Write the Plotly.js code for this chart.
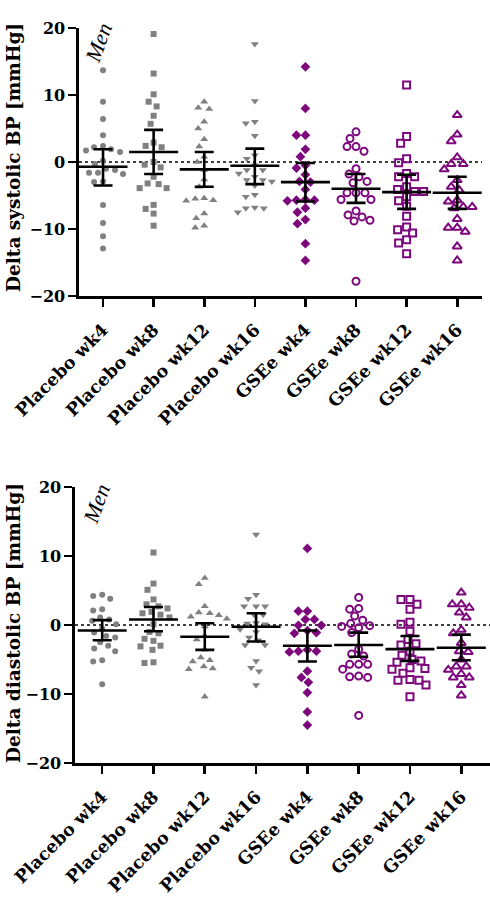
<!DOCTYPE html>
<html>
<head>
<meta charset="utf-8">
<script src="https://cdn.plot.ly/plotly-3.0.1.min.js"></script>
<style>html,body{margin:0;padding:0;background:#fff;}#chart{width:490px;height:902px;}</style>
</head>
<body>
<div id="chart"></div>
<script>
const categories = ['Placebo wk4', 'Placebo wk8', 'Placebo wk12', 'Placebo wk16', 'GSEe wk4', 'GSEe wk8', 'GSEe wk12', 'GSEe wk16'];

// Delta systolic BP [mmHg]
const sys_placebo_wk4 = [13.7, 9.0, 6.4, 4.0, 2.4, 2.2, 1.9, 1.7, 1.5, 0.2, -0.3, -1.0, -1.2, -1.6, -1.6, -1.8, -2.9, -3.0, -6.4, -9.1, -11.1, -12.9];
const sys_placebo_wk8 = [19.1, 13.2, 10.1, 9.0, 8.3, 6.9, 5.7, 2.9, 2.4, 2.2, 0.0, -0.4, -0.8, -2.2, -3.2, -3.3, -3.9, -3.9, -6.4, -7.0, -7.7, -9.5];
const sys_placebo_wk12 = [9.0, 8.1, 7.9, 6.0, 5.0, 3.4, 2.3, 0.8, 0.0, -1.2, -2.6, -3.7, -5.5, -5.8, -5.7, -5.4, -7.7, -8.4, -9.8, -9.5];
const sys_placebo_wk16 = [17.6, 9.1, 6.0, 5.8, 3.9, 1.0, 0.5, -0.5, -1.2, -1.2, -1.7, -2.2, -2.7, -2.9, -2.7, -3.5, -4.9, -5.2, -6.8, -7.5, -6.9, -6.9];
const sys_gsee_wk4 = [14.2, 8.0, 4.0, 4.0, 1.9, 0.8, -0.5, -0.9, -1.9, -2.9, -3.0, -4.1, -5.6, -5.7, -5.7, -5.8, -6.9, -7.5, -8.6, -9.2, -12.2, -14.7];
const sys_gsee_wk8 = [4.5, 3.5, 2.3, 2.3, 1.6, -1.0, -1.8, -2.2, -3.1, -2.9, -4.6, -4.6, -4.6, -5.6, -5.6, -7.3, -7.9, -8.7, -8.8, -8.2, -17.8];
const sys_gsee_wk12 = [11.5, 3.8, 2.8, 0.5, -0.1, -1.7, -2.2, -2.2, -3.7, -4.4, -4.1, -4.4, -5.2, -5.8, -6.6, -8.1, -9.7, -10.1, -10.6, -11.6, -12.1, -13.7];
const sys_gsee_wk16 = [7.0, 4.1, 3.1, 0.7, -0.3, -0.3, -1.1, -2.7, -3.7, -4.2, -5.9, -5.7, -6.7, -6.7, -6.9, -8.5, -9.8, -9.8, -10.4, -12.6, -14.7];
const sys_mean = [-0.7, 1.5, -1.1, -0.55, -3.0, -4.0, -4.5, -4.6];
const sys_ci_hi = [1.9, 4.8, 1.5, 2.0, -0.15, -1.8, -1.9, -2.2];
const sys_ci_lo = [-3.5, -1.8, -3.7, -3.3, -5.9, -6.1, -7.0, -7.0];

// Delta diastolic BP [mmHg]
const dia_placebo_wk4 = [4.4, 3.8, 4.2, 2.3, 2.1, 1.1, 0.8, 0.6, 0.1, -0.5, -1.1, -1.6, -1.8, -2.5, -3.0, -3.4, -3.8, -5.1, -5.3, -8.6];
const dia_placebo_wk8 = [10.5, 6.0, 5.1, 3.7, 3.0, 2.7, 2.4, 1.9, 1.7, 1.5, 1.1, 0.1, -1.0, -1.2, -2.0, -2.3, -3.0, -3.1, -3.6, -5.5, -5.4];
const dia_placebo_wk12 = [6.8, 5.9, 2.7, 1.7, 1.8, 1.4, 1.2, 0.9, -0.2, -1.6, -2.1, -3.6, -4.7, -5.1, -5.3, -6.0, -6.3, -6.4, -10.4];
const dia_placebo_wk16 = [13.1, 4.4, 3.8, 2.7, 2.7, 2.7, 1.5, 1.5, 0.3, 0.2, 0.1, -0.6, -1.0, -1.8, -2.2, -2.9, -2.9, -5.2, -6.2, -6.7, -8.7];
const dia_gsee_wk4 = [11.1, 2.0, 2.0, 0.8, 0.8, -0.05, -0.05, -0.8, -1.2, -1.1, -3.6, -3.8, -3.9, -3.8, -6.7, -7.6, -8.3, -9.8, -12.6, -14.5];
const dia_gsee_wk8 = [4.0, 2.4, 2.3, 1.3, 0.7, 0.2, -0.1, -0.2, -0.4, -1.1, -3.5, -4.2, -4.5, -5.7, -5.7, -5.7, -6.4, -7.5, -7.6, -7.4, -13.1];
const dia_gsee_wk12 = [3.7, 3.7, 3.0, 2.3, 0.4, 0.1, -0.9, -2.1, -2.7, -2.9, -3.8, -4.4, -5.0, -5.2, -5.4, -6.3, -6.4, -6.2, -7.0, -8.0, -8.0, -7.9, -8.7, -10.4];
const dia_gsee_wk16 = [4.7, 3.0, 3.0, 2.5, 1.8, 1.1, -0.7, -1.2, -2.6, -3.8, -3.9, -5.0, -6.0, -6.0, -6.5, -7.1, -7.6, -7.6, -8.7, -10.2];
const dia_mean = [-0.8, 0.8, -1.7, -0.25, -3.0, -2.9, -3.5, -3.3];
const dia_ci_hi = [0.7, 2.6, 0.25, 1.7, -0.8, -1.1, -1.6, -1.4];
const dia_ci_lo = [-2.2, -0.9, -3.6, -2.4, -5.3, -4.6, -5.2, -5.1];

const sysGroups = [sys_placebo_wk4, sys_placebo_wk8, sys_placebo_wk12, sys_placebo_wk16, sys_gsee_wk4, sys_gsee_wk8, sys_gsee_wk12, sys_gsee_wk16];
const diaGroups = [dia_placebo_wk4, dia_placebo_wk8, dia_placebo_wk12, dia_placebo_wk16, dia_gsee_wk4, dia_gsee_wk8, dia_gsee_wk12, dia_gsee_wk16];

const GRAY = '#808080', PURPLE = '#7d087d';
const symbols = ['circle', 'square', 'triangle-up', 'triangle-down', 'diamond', 'circle-open', 'square-open', 'triangle-up-open'];
const colors = [GRAY, GRAY, GRAY, GRAY, PURPLE, PURPLE, PURPLE, PURPLE];
const sizes = [6, 6, 7, 7, 7.5, 7, 7, 8];

// simple beeswarm offsets (pixel based), returned in category units
function swarm(vals, ppuX, ppuY, d) {
  const idx = vals.map((v, i) => i).sort((a, b) => vals[b] - vals[a]);
  const placed = [];
  const off = new Array(vals.length).fill(0);
  for (const i of idx) {
    const py = vals[i] * ppuY;
    for (let k = 0; k < 400; k++) {
      const s = (k % 2 === 1 ? -1 : 1) * Math.ceil(k / 2);
      const px = s * 1.0;
      if (placed.every(p => Math.hypot(p[0] - px, p[1] - py) >= d)) {
        off[i] = px / ppuX;
        placed.push([px, py]);
        break;
      }
    }
  }
  return off;
}

const FONT = 'DejaVu Serif';
const traces = [];
function addPanel(groups, mean, lo, hi, xa, ya, ppuX, ppuY) {
  groups.forEach((vals, i) => {
    const off = swarm(vals, ppuX, ppuY, 8.5);
    traces.push({
      type: 'scatter', mode: 'markers', xaxis: xa, yaxis: ya, showlegend: false, hoverinfo: 'skip',
      x: vals.map((v, j) => i + off[j]), y: vals,
      marker: {symbol: symbols[i], size: sizes[i], color: colors[i],
               line: {color: colors[i], width: symbols[i].endsWith('open') ? 2 : 0}}
    });
  });
  traces.push({
    type: 'scatter', mode: 'markers', xaxis: xa, yaxis: ya, showlegend: false, hoverinfo: 'skip',
    x: categories.map((c, i) => i), y: mean,
    marker: {symbol: 'line-ew', size: 35, color: 'black', line: {color: 'black', width: 2.6}},
    error_y: {type: 'data', symmetric: false,
              array: hi.map((h, i) => h - mean[i]), arrayminus: lo.map((l, i) => mean[i] - l),
              width: 9.5, thickness: 2.6, color: 'black'}
  });
}
addPanel(sysGroups, sys_mean, sys_ci_lo, sys_ci_hi, 'x', 'y', 50.6, 6.7);
addPanel(diaGroups, dia_mean, dia_ci_lo, dia_ci_hi, 'x2', 'y2', 51.3, 6.9);

const yTickFont = {family: FONT, size: 16, color: 'black', weight: 'bold'};
const xTickFont = {family: FONT, size: 17.5, color: 'black', weight: 'bold'};
function xAxis(domain, range, anchor) {
  return {domain: domain, range: range, anchor: anchor, tickmode: 'array',
          tickvals: categories.map((c, i) => i), ticktext: categories, tickangle: -45,
          showline: true, linewidth: 2.6, linecolor: 'black', ticks: 'outside', ticklen: 8,
          tickwidth: 2.6, tickcolor: 'black', showgrid: false, zeroline: false, tickfont: xTickFont,
          ticklabelstandoff: 6, fixedrange: true};
}
function yAxis(domain, anchor) {
  return {domain: domain, range: [-20, 20], anchor: anchor, tickmode: 'array', tickvals: [-20, -10, 0, 10, 20],
          showline: true, linewidth: 2.6, linecolor: 'black', ticks: 'outside', ticklen: 8,
          tickwidth: 2.6, tickcolor: 'black', showgrid: false, zeroline: false, tickfont: yTickFont, fixedrange: true};
}

const layout = {
  width: 490, height: 902, margin: {l: 0, r: 0, t: 0, b: 0},
  paper_bgcolor: 'white', plot_bgcolor: 'white', showlegend: false,
  xaxis: xAxis([79 / 490, 482 / 490], [-0.475, 7.49], 'y'),
  yaxis: yAxis([1 - 296 / 902, 1 - 28 / 902], 'x'),
  xaxis2: xAxis([75 / 490, 1.0], [-0.53, 7.56], 'y2'),
  yaxis2: yAxis([1 - 763 / 902, 1 - 487 / 902], 'x2'),
  shapes: [
    {type: 'line', xref: 'x domain', yref: 'y', x0: 0, x1: 1, y0: 0, y1: 0, layer: 'below', line: {color: 'black', width: 1.5, dash: 'dot'}},
    {type: 'line', xref: 'x2 domain', yref: 'y2', x0: 0, x1: 1, y0: 0, y1: 0, layer: 'below', line: {color: 'black', width: 1.5, dash: 'dot'}}
  ],
  annotations: [
    {text: 'Delta systolic BP [mmHg]', xref: 'paper', yref: 'paper', x: 13 / 490, y: 1 - 158 / 902,
     textangle: -90, showarrow: false, xanchor: 'center', yanchor: 'middle',
     font: {family: FONT, size: 18.5, color: 'black', weight: 'bold'}},
    {text: 'Delta diastolic BP [mmHg]', xref: 'paper', yref: 'paper', x: 13 / 490, y: 1 - 623 / 902,
     textangle: -90, showarrow: false, xanchor: 'center', yanchor: 'middle',
     font: {family: FONT, size: 18.5, color: 'black', weight: 'bold'}},
    {text: 'Men', xref: 'paper', yref: 'paper', x: 99 / 490, y: 1 - 43 / 902, textangle: -70, showarrow: false,
     xanchor: 'center', yanchor: 'middle', font: {family: 'Liberation Serif', size: 22, color: 'black', style: 'italic'}},
    {text: 'Men', xref: 'paper', yref: 'paper', x: 97 / 490, y: 1 - 504 / 902, textangle: -70, showarrow: false,
     xanchor: 'center', yanchor: 'middle', font: {family: 'Liberation Serif', size: 22, color: 'black', style: 'italic'}}
  ]
};

Plotly.newPlot('chart', traces, layout, {staticPlot: true, displayModeBar: false});
</script>
</body>
</html>
